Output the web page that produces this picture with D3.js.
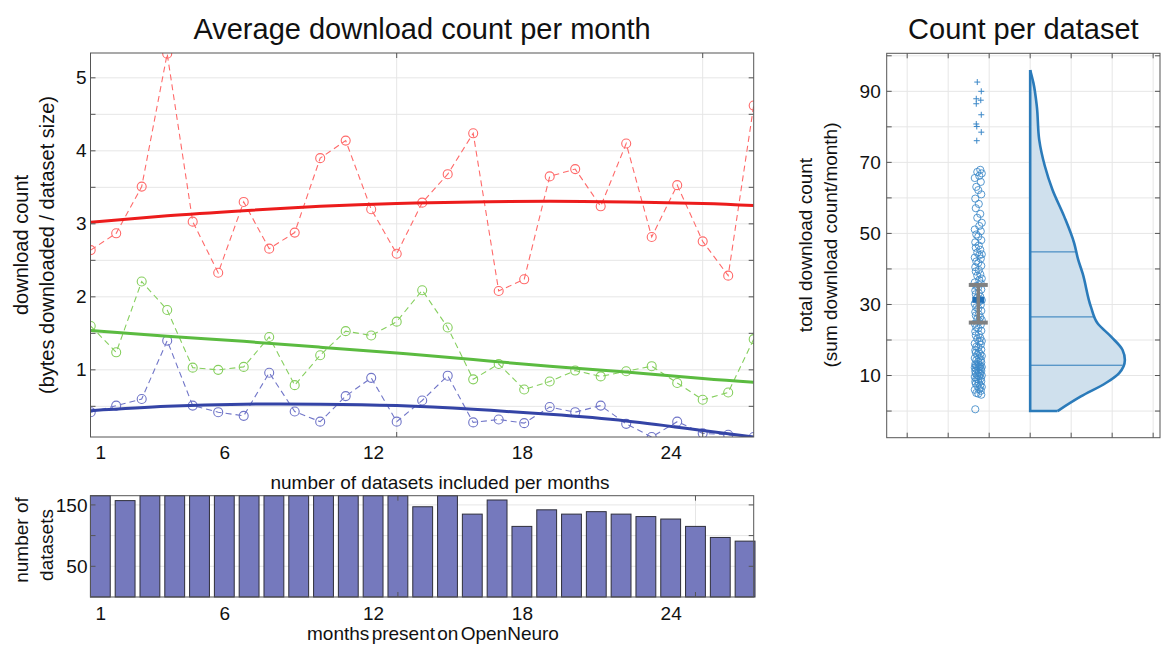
<!DOCTYPE html>
<html><head><meta charset="utf-8">
<script src="https://cdn.jsdelivr.net/npm/d3@7"></script>
<style>body{margin:0;background:#fff}svg{font-family:"Liberation Sans",Arial,sans-serif}</style>
</head><body><svg id="c" width="1162" height="645"></svg>
<script>
// ---------- data ----------
const months = d3.range(1, 28);
const redVals   = [2.64,2.87,3.51,5.33,3.03,2.33,3.30,2.66,2.88,3.90,4.14,3.20,2.59,3.29,3.68,4.24,2.08,2.24,3.65,3.75,3.24,4.10,2.82,3.53,2.76,2.29,4.62];
const greenVals = [1.60,1.24,2.21,1.82,1.03,1.00,1.04,1.45,0.79,1.20,1.53,1.47,1.66,2.09,1.58,0.87,1.08,0.73,0.84,0.99,0.91,0.98,1.05,0.82,0.59,0.69,1.42];
const blueVals  = [0.42,0.51,0.60,1.40,0.51,0.42,0.37,0.96,0.43,0.29,0.64,0.89,0.29,0.58,0.92,0.28,0.32,0.27,0.49,0.42,0.51,0.26,0.08,0.29,0.13,0.11,0.08];
const trendMonths = [1,4,7,10,13,16,19,22,25,27];
const redTrend   = [3.02,3.11,3.18,3.24,3.28,3.30,3.31,3.30,3.28,3.25];
const greenTrend = [1.54,1.46,1.39,1.31,1.23,1.14,1.05,0.97,0.88,0.83];
const blueTrend  = [0.44,0.50,0.53,0.53,0.51,0.46,0.39,0.30,0.17,0.08];
const datasetCounts = [165,157,165,165,165,165,165,165,165,165,165,165,165,147,165,135,158,115,142,135,139,135,131,127,115,97,91];
const monthTickLabels = [1,6,12,18,24];
const gridMonths = [13,25];
const topYTicks = [1,2,3,4,5];
const barYTicks = [50,150];

const scatterVals = [0.5,4.6,4.9,5.1,5.7,6.0,6.2,6.8,7.1,7.2,7.7,7.9,8.3,8.4,8.9,9.1,9.2,9.6,9.8,10.0,10.1,10.5,10.6,10.9,11.2,11.3,11.6,11.8,11.9,12.2,12.3,12.4,12.6,12.7,12.8,
 13.1,13.2,13.7,13.9,14.3,14.4,14.9,15.0,15.5,15.8,16.0,16.4,16.6,17.1,17.3,17.9,18.1,18.7,19.0,19.5,19.7,20.3,20.6,21.3,21.6,22.4,22.6,23.3,23.6,24.3,24.6,25.3,25.6,26.0,26.4,
 26.9,27.2,27.9,28.2,28.9,29.2,29.9,30.2,30.9,31.2,31.9,32.2,32.9,33.2,33.9,34.2,34.9,35.2,35.9,36.2,36.9,37.3,38.1,38.5,39.3,39.7,40.5,40.9,41.7,42.1,42.9,43.2,43.9,44.1,44.6,
 45.4,46.0,46.6,47.5,48.1,49.1,49.7,50.6,51.1,52.1,53.0,54.4,55.5,57.1,58.3,59.8,61.0,62.2,63.1,64.5,65.6,66.2,66.9,67.3,67.9];
const outlierVals = [92.6,90.0,87.9,87.5,86.5,83.4,80.8,80.1,78.5,76.1];
const violinVals   = [0,4.1,7.9,10.7,14.4,17.2,21,24.7,29.4,38.8,42.6,47.3,54.8,62.3,68.9,76.4,85.7,92.3,96];
const violinWidths = [0.668,1.237,1.846,2.171,2.310,2.254,1.968,1.644,1.480,1.278,1.171,1.073,0.829,0.544,0.359,0.220,0.163,0.080,0];
const quartiles = [12.9,26.5,44.8];
const meanVal = 31.3;
const ciVals = [24.9,35.5];
const rightYTicks = [10,30,50,70,90];

// ---------- setup ----------
const svg = d3.select("#c");
const FRAME = "#555", GRID = "#e6e6e6";
const fs = 19;

function gridAndFrame(g, P, xs, ys, xTicksPos, yTicksPos) {
  g.selectAll(".gy").data(yTicksPos).join("line").attr("x1",P.l).attr("x2",P.r)
    .attr("y1",d=>ys(d)).attr("y2",d=>ys(d)).attr("stroke",GRID);
  g.selectAll(".gx").data(xTicksPos).join("line").attr("y1",P.t).attr("y2",P.b)
    .attr("x1",d=>xs(d)).attr("x2",d=>xs(d)).attr("stroke",GRID);
}
function ticksAndBox(g, P, xs, ys, xTicksPos, yTicksPos) {
  const t = g.append("g");
  yTicksPos.forEach(d=>{
    t.append("line").attr("x1",P.l).attr("x2",P.l+5).attr("y1",ys(d)).attr("y2",ys(d)).attr("stroke",FRAME);
    t.append("line").attr("x1",P.r-5).attr("x2",P.r).attr("y1",ys(d)).attr("y2",ys(d)).attr("stroke",FRAME);
  });
  xTicksPos.forEach(d=>{
    t.append("line").attr("x1",xs(d)).attr("x2",xs(d)).attr("y1",P.b).attr("y2",P.b-5).attr("stroke",FRAME);
    t.append("line").attr("x1",xs(d)).attr("x2",xs(d)).attr("y1",P.t).attr("y2",P.t+5).attr("stroke",FRAME);
  });
  g.append("rect").attr("x",P.l).attr("y",P.t).attr("width",P.r-P.l).attr("height",P.b-P.t)
    .attr("fill","none").attr("stroke",FRAME).attr("stroke-width",1);
}

// ---------- top chart ----------
const T = {l:90.5, r:753.7, t:53, b:437};
const xTop = d3.scaleLinear().domain([1,27]).range([90.7,753.7]);
const yTop = d3.scaleLinear().domain([0.08,5.34]).range([T.b,T.t]);
const xBar = d3.scaleLinear().domain([0.6,27.36]).range([90.4,754]);
const gT = svg.append("g");
const topGridY = d3.range(0.5,5.01,0.5);
gridAndFrame(gT, T, xTop, yTop, gridMonths, topGridY);

svg.append("clipPath").attr("id","clipT").append("rect")
  .attr("x",T.l).attr("y",T.t).attr("width",T.r-T.l).attr("height",T.b-T.t);
const plotT = gT.append("g").attr("clip-path","url(#clipT)");

const series = [
  {vals:redVals, trend:redTrend, light:"#ff6a6a", dark:"#ec1c1c"},
  {vals:greenVals, trend:greenTrend, light:"#86cf5e", dark:"#5bbb40"},
  {vals:blueVals, trend:blueTrend, light:"#7176c8", dark:"#3444a6"}
];
const lineG = d3.line().x(d=>xTop(d[0])).y(d=>yTop(d[1]));
const trendG = d3.line().x(d=>xTop(d[0])).y(d=>yTop(d[1])).curve(d3.curveNatural);
series.forEach(s=>{
  const pts = months.map((m,i)=>[m,s.vals[i]]);
  plotT.append("path").attr("d",lineG(pts)).attr("fill","none").attr("stroke",s.light)
    .attr("stroke-width",1.1).attr("stroke-dasharray","6,4");
  plotT.selectAll(null).data(pts).join("circle").attr("cx",d=>xTop(d[0])).attr("cy",d=>yTop(d[1]))
    .attr("r",4.5).attr("fill","none").attr("stroke",s.light).attr("stroke-width",1.1);
});
series.forEach(s=>{
  const tp = trendMonths.map((m,i)=>[m,s.trend[i]]);
  plotT.append("path").attr("d",trendG(tp)).attr("fill","none").attr("stroke",s.dark).attr("stroke-width",3);
});
ticksAndBox(gT, T, xTop, yTop, gridMonths, topGridY);

gT.append("g").attr("transform",`translate(${T.l},0)`)
  .call(d3.axisLeft(yTop).tickValues(topYTicks).tickSize(0).tickPadding(4).tickFormat(d3.format("d")))
  .call(g=>g.select(".domain").remove())
  .selectAll("text").attr("font-size",fs).attr("font-family","Liberation Sans, Arial").attr("fill","#111");
gT.append("g").attr("transform",`translate(0,${T.b})`)
  .call(d3.axisBottom(xBar).tickValues(monthTickLabels).tickSize(0).tickPadding(9).tickFormat(d3.format("d")))
  .call(g=>g.select(".domain").remove())
  .selectAll("text").attr("font-size",fs).attr("font-family","Liberation Sans, Arial").attr("fill","#111");

svg.append("text").attr("x",(T.l+T.r)/2).attr("y",39).attr("text-anchor","middle")
  .attr("font-size",29).attr("fill","#111").text("Average download count per month");
function vlabel(x,y,txt,size){
  svg.append("text").attr("transform",`translate(${x},${y}) rotate(-90)`).attr("dy","0.35em")
    .attr("text-anchor","middle").attr("font-size",size).attr("fill","#111").text(txt);
}
vlabel(21,245,"download count",20);
vlabel(47,245,"(bytes downloaded / dataset size)",20);

// ---------- bar chart ----------
const B = {l:90.5, r:753.7, t:495.7, b:597};
const yBar = d3.scaleLinear().domain([0,165]).range([B.b,B.t]);
const gB = svg.append("g");
const barGridY = [50,100,150];
gridAndFrame(gB, B, xBar, yBar, gridMonths, barGridY);
gB.selectAll(".bar").data(months).join("rect")
  .attr("x",m=>xBar(m-0.4)).attr("width",m=>xBar(m+0.4)-xBar(m-0.4))
  .attr("y",(m,i)=>yBar(datasetCounts[i])).attr("height",(m,i)=>yBar(0)-yBar(datasetCounts[i]))
  .attr("fill","#7579bd").attr("stroke","#2e2e3a").attr("stroke-width",1);
ticksAndBox(gB, B, xBar, yBar, gridMonths, barGridY);
gB.append("g").attr("transform",`translate(${B.l},0)`)
  .call(d3.axisLeft(yBar).tickValues(barYTicks).tickSize(0).tickPadding(3))
  .call(g=>g.select(".domain").remove())
  .selectAll("text").attr("font-size",fs).attr("font-family","Liberation Sans, Arial").attr("fill","#111");
gB.append("g").attr("transform",`translate(0,${B.b})`)
  .call(d3.axisBottom(xBar).tickValues(monthTickLabels).tickSize(0).tickPadding(10).tickFormat(d3.format("d")))
  .call(g=>g.select(".domain").remove())
  .selectAll("text").attr("font-size",fs).attr("font-family","Liberation Sans, Arial").attr("fill","#111");
svg.append("text").attr("x",440).attr("y",489).attr("text-anchor","middle").attr("font-size",fs)
  .attr("fill","#111").text("number of datasets included per months");
svg.append("text").attr("x",433).attr("y",640).attr("text-anchor","middle").attr("font-size",fs)
  .attr("fill","#111").attr("word-spacing",-3).text("months present on OpenNeuro");
vlabel(21,540,"number of",fs);
vlabel(46,545,"datasets",fs);

// ---------- right chart ----------
const R = {l:886.7, r:1160, t:53.3, b:437.7};
const xR = d3.scaleLinear().domain([0,6.667]).range([R.l,R.r]);
const yR = d3.scaleLinear().domain([-7.5,100.7]).range([R.b,R.t]);
const gR = svg.append("g");
const rGridX = d3.range(0.5,6.6,1);
const rGridY = d3.range(0,101,10);
gridAndFrame(gR, R, xR, yR, rGridX, rGridY);

const vPos = 3.5, sPos = 2.234;
const vPts = violinVals.map((v,i)=>[violinWidths[i],v]);
const area = d3.area().x0(()=>xR(vPos)).x1(d=>xR(vPos+d[0])).y(d=>yR(d[1])).curve(d3.curveMonotoneY);
gR.append("path").attr("d",area(vPts)).attr("fill","#cfe0ed").attr("stroke","none");
const wInterp = v=>{ const i = d3.bisectRight(violinVals,v)-1; const t=(v-violinVals[i])/(violinVals[i+1]-violinVals[i]); return violinWidths[i]+t*(violinWidths[i+1]-violinWidths[i]); };
gR.selectAll(".q").data(quartiles).join("line")
  .attr("x1",xR(vPos)).attr("x2",q=>xR(vPos+wInterp(q))).attr("y1",q=>yR(q)).attr("y2",q=>yR(q))
  .attr("stroke","#2b7bba").attr("stroke-width",1);
const outline = d3.line().x(d=>xR(vPos+d[0])).y(d=>yR(d[1])).curve(d3.curveMonotoneY);
gR.append("path").attr("d",outline(vPts)).attr("fill","none").attr("stroke","#2b7bba").attr("stroke-width",2.6);
gR.append("path")
  .attr("d",`M${xR(vPos+violinWidths[0])},${yR(violinVals[0])}H${xR(vPos)}V${yR(violinVals[violinVals.length-1])}`)
  .attr("fill","none").attr("stroke","#2b7bba").attr("stroke-width",2.6).attr("stroke-linejoin","miter");

const jit = [-3,3,0,-2,2.5,-3.5,1,3.5,-1,2,-2.5,0.5];
gR.selectAll(".sc").data(scatterVals).join("circle")
  .attr("cx",(d,i)=>xR(sPos)+jit[i%jit.length]).attr("cy",d=>yR(d)).attr("r",3.6)
  .attr("fill","none").attr("stroke","#3c88c8").attr("stroke-width",1).attr("opacity",0.85);
const ojit = [-1,3,-2,2.5,-2,3,-2,-1.5,3,-1.5];
gR.selectAll(".ol").data(outlierVals).join("path")
  .attr("d",(d,i)=>{const x=xR(sPos)+ojit[i], y=yR(d); return `M${x-3},${y}H${x+3}M${x},${y-3}V${y+3}`;})
  .attr("stroke","#3c88c8").attr("stroke-width",1).attr("fill","none");
const sx = xR(sPos);
gR.append("rect").attr("x",sx-6).attr("y",yR(meanVal)-3).attr("width",12).attr("height",6).attr("fill","#1f6fb8");
gR.append("line").attr("x1",sx).attr("x2",sx).attr("y1",yR(ciVals[0])).attr("y2",yR(ciVals[1]))
  .attr("stroke","#808080").attr("stroke-width",3.5);
ciVals.forEach(c=>gR.append("line").attr("x1",sx-9.5).attr("x2",sx+9.5).attr("y1",yR(c)).attr("y2",yR(c))
  .attr("stroke","#808080").attr("stroke-width",4));

ticksAndBox(gR, R, xR, yR, rGridX, rGridY);
gR.append("g").attr("transform",`translate(${R.l},0)`)
  .call(d3.axisLeft(yR).tickValues(rightYTicks).tickSize(0).tickPadding(6))
  .call(g=>g.select(".domain").remove())
  .selectAll("text").attr("font-size",fs).attr("font-family","Liberation Sans, Arial").attr("fill","#111");
svg.append("text").attr("x",(R.l+R.r)/2).attr("y",39).attr("text-anchor","middle")
  .attr("font-size",29).attr("fill","#111").text("Count per dataset");
vlabel(805,245,"total download count",fs);
vlabel(830,245,"(sum download count/month)",fs);
</script></body></html>
